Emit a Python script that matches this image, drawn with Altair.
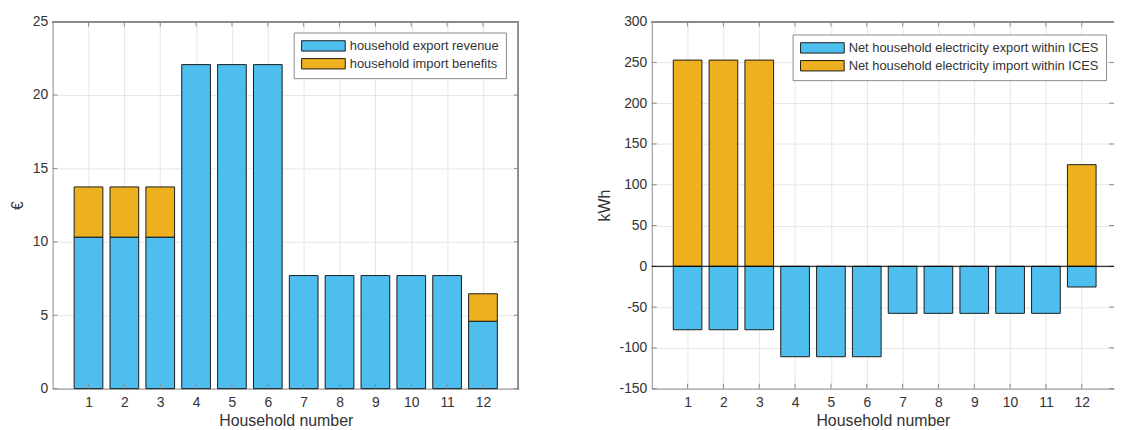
import altair as alt
import pandas as pd

# ---------------- data ----------------
households = list(range(1, 13))
export_revenue = [10.32, 10.32, 10.32, 22.07, 22.07, 22.07, 7.70, 7.70, 7.70, 7.70, 7.70, 4.59]
import_benefits = [3.42, 3.42, 3.42, 0, 0, 0, 0, 0, 0, 0, 0, 1.87]
net_export = [-77.8, -77.8, -77.8, -110.9, -110.9, -110.9, -57.7, -57.7, -57.7, -57.7, -57.7, -25.4]
net_import = [252.8, 252.8, 252.8, 0, 0, 0, 0, 0, 0, 0, 0, 124.6]

left_series = ["household export revenue", "household import benefits"]
right_series = ["Net household electricity export within ICES",
                "Net household electricity import within ICES"]
x_ticks = households
left_y_ticks = [0, 5, 10, 15, 20, 25]
right_y_ticks = [-150, -100, -50, 0, 50, 100, 150, 200, 250, 300]

# ---------------- styles ----------------
BLUE = "#4DBEEE"
GOLD = "#EDB120"
EDGE = "#1a1a1a"
BOX = "#8a8a8a"
GRID = "#e6e6e6"
TXT = "#333333"
FONT = "Liberation Sans"
H = 370
WL = 470
WR = 466
TL = 5  # inward tick length

# ---------------- tables ----------------
rows = []
for h, e, i in zip(households, export_revenue, import_benefits):
    rows.append({"h": h, "series": left_series[0], "lo": 0.0, "hi": e})
    if i > 0:
        rows.append({"h": h, "series": left_series[1], "lo": e, "hi": e + i})
left_df = pd.DataFrame(rows)

rows = []
for h, e, i in zip(households, net_export, net_import):
    rows.append({"h": h, "series": right_series[0], "lo": 0.0, "hi": e})
    if i > 0:
        rows.append({"h": h, "series": right_series[1], "lo": 0.0, "hi": i})
right_df = pd.DataFrame(rows)

xt_df = pd.DataFrame({"t": x_ticks})


def legend(lx, ly):
    return alt.Legend(
        orient="none", legendX=lx, legendY=ly, title=None,
        symbolType="M-1,-0.95H7V0.95H-1Z", symbolSize=121,
        symbolStrokeColor=EDGE, symbolStrokeWidth=1, symbolOpacity=1,
        labelOffset=36.5, labelFontSize=13, labelFont=FONT, labelColor=TXT,
        labelLimit=500, strokeColor=BOX, fillColor="white", padding=7,
        rowPadding=3, cornerRadius=0,
    )


def panel(df, series, y_ticks, ydom, ytitle, W, xmax, lx, ly, zero_line, right_edge):
    xscale = alt.Scale(domain=[0, xmax], nice=False, zero=False)
    yscale = alt.Scale(domain=ydom, nice=False, zero=False)
    common = dict(grid=True, gridColor=GRID, tickSize=0, domain=True, domainColor=BOX,
                  labelFont=FONT, labelFontSize=14, labelColor=TXT,
                  titleFont=FONT, titleFontSize=16, titleColor=TXT, titleFontWeight="normal",
                  labelExpr="'' + datum.value")
    xaxis = alt.Axis(values=x_ticks, title="Household number", labelPadding=7,
                     titlePadding=3, **common)
    yaxis = alt.Axis(values=y_ticks, title=ytitle, labelPadding=5, titlePadding=7, **common)
    bars = alt.Chart(df).transform_calculate(
        xl="datum.h - 0.4", xr="datum.h + 0.4"
    ).mark_rect(stroke=EDGE, strokeWidth=1).encode(
        x=alt.X("xl:Q", scale=xscale, axis=xaxis),
        x2="xr:Q",
        y=alt.Y("lo:Q", scale=yscale, axis=yaxis),
        y2="hi:Q",
        color=alt.Color("series:N", scale=alt.Scale(domain=series, range=[BLUE, GOLD]),
                        legend=legend(lx, ly)),
    )
    layers = [bars]
    # inward ticks, bottom and top
    layers.append(alt.Chart(xt_df).mark_rule(color=BOX).encode(
        x=alt.X("t:Q", scale=xscale, axis=xaxis), y=alt.value(H), y2=alt.value(H - TL)))
    layers.append(alt.Chart(xt_df).mark_rule(color=BOX).encode(
        x=alt.X("t:Q", scale=xscale, axis=xaxis), y=alt.value(0), y2=alt.value(TL)))
    yt_df = pd.DataFrame({"t": y_ticks})
    layers.append(alt.Chart(yt_df).mark_rule(color=BOX).encode(
        y=alt.Y("t:Q", scale=yscale, axis=yaxis), x=alt.value(0), x2=alt.value(TL)))
    layers.append(alt.Chart(yt_df).mark_rule(color=BOX).encode(
        y=alt.Y("t:Q", scale=yscale, axis=yaxis), x=alt.value(W - TL), x2=alt.value(W)))
    # top border
    layers.append(alt.Chart(xt_df).mark_rule(color=BOX).encode(
        y=alt.value(0.5), x=alt.value(0), x2=alt.value(W)))
    if right_edge:
        layers.append(alt.Chart(xt_df).mark_rule(color=BOX).encode(
            x=alt.value(W - 0.5), y=alt.value(0), y2=alt.value(H)))
    if zero_line:
        layers.append(alt.Chart(pd.DataFrame({"z": [0]})).mark_rule(color="black", strokeWidth=1).encode(
            y=alt.Y("z:Q", scale=yscale, axis=yaxis), x=alt.value(0), x2=alt.value(W)))
    return alt.layer(*layers).properties(width=W, height=H)


left = panel(left_df, left_series, left_y_ticks, [0, 25], "€", WL, 13, 243, 11, False, True)
right = panel(right_df, right_series, right_y_ticks, [-150, 300], "kWh", WR, 12.9, 142, 13, True, False)

chart = alt.hconcat(left, right, spacing=134, bounds="flush").resolve_scale(
    color="independent"
).properties(
    padding={"left": 0, "top": 4, "right": 0, "bottom": 0},
    background="white",
).configure_view(stroke="transparent")

chart.save("out.html", embed_options={"renderer": "svg", "actions": False})
